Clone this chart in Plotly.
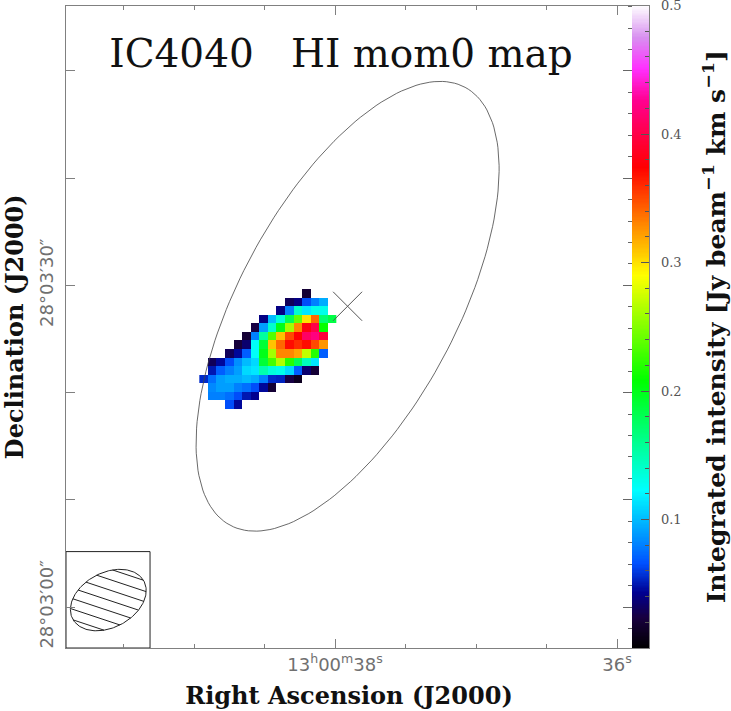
import numpy as np
import plotly.graph_objects as go

_ = None
# integrated intensity per pixel, top row first (Jy/beam km/s)
mom0 = [
    [_, _, _, _, _, _, _, _, _, _, _, _, .020, _, _, _],
    [_, _, _, _, _, _, _, _, _, _, .030, .040, .065, .080, .095, _],
    [_, _, _, _, _, _, _, _, _, .040, .080, .140, .115, .130, .130, _],
    [_, _, _, _, _, _, _, .040, .100, .135, .180, .240, .300, .340, .170, .185],
    [_, _, _, _, _, _, .025, .090, .140, .200, .260, .330, .380, .400, .210, _],
    [_, _, _, _, _, .020, .080, .155, .235, .310, .350, .375, .410, .420, .395, _],
    [_, _, _, _, .022, .035, .125, .190, .310, .340, .370, .360, .370, .350, .325, _],
    [_, _, _, .030, .045, .070, .125, .200, .260, .330, .330, .320, .270, .220, .070, _],
    [_, .030, .045, .065, .085, .100, .110, .190, .230, .265, .220, .180, .145, .115, _, _],
    [_, .050, .070, .080, .090, .110, .115, .150, .135, .130, .110, .070, .035, .020, _, _],
    [.055, .075, .090, .095, .095, .100, .095, .080, .055, .053, .025, .012, _, _, _, _],
    [_, .083, .090, .090, .080, .075, .065, .045, .020, _, _, _, _, _, _, _],
    [_, .080, .080, .075, .065, .050, .043, _, _, _, _, _, _, _, _, _],
    [_, _, _, .065, .045, _, _, _, _, _, _, _, _, _, _, _],
]
ra_first = 38.932     # seconds past 13h00m, first column
ra_step = -0.0609
dec_first = 29.26     # arcsec past 28d03m, first row
dec_step = -0.8

cbar_stops = [0, .024, .043, .066, .080, .123, .208, .290, .374, .426, .451, .475, .5]
cbar_colors = ["#000000", "#180040", "#000090", "#0050ff", "#0080ff", "#00ffff", "#00ff00",
               "#ffff00", "#ff0000", "#ff0090", "#ff30ff", "#d890f0", "#ffffff"]
cbar_ticks = [.1, .2, .3, .4, .5]

# optical ellipse of the galaxy and the synthesized beam
gal_ra, gal_dec, gal_a, gal_b, gal_angle = 37.911, 28.05, 23.17, 10.12, 61.8
beam_ra, beam_dec, beam_a, beam_b, beam_angle = 39.608, 0.65, 3.76, 2.56, 27.9
hatch_angle = -18.4
hatch_offsets = [-3, -2, -1, 0, 1, 2, 3]
hatch_step = 0.93

ra_ticks = [38, 36]
ra_labels = ["13<sup>h</sup>00<sup>m</sup>38<sup>s</sup>", "36<sup>s</sup>"]
dec_ticks = [0, 30]
dec_labels = ["28°03′00″", "28°03′30″"]
dec_other_ticks = [10, 20, 40, 50]

RA_RANGE = [39.908, 35.894]
DEC_RANGE = [-3.82, 56.1]
ARCSEC_PER_SEC = 13.14
W, H = 731, 711


def ellipse(ra0, dec0, a, b, angle):
    t = np.linspace(0, 2 * np.pi, 181)
    th = np.radians(angle)
    X = a * np.cos(t) * np.cos(th) - b * np.sin(t) * np.sin(th)
    Y = a * np.cos(t) * np.sin(th) + b * np.sin(t) * np.cos(th)
    return ra0 - X / ARCSEC_PER_SEC, dec0 + Y


def hatching():
    th, ph = np.radians(beam_angle), np.radians(hatch_angle)
    e1 = np.array([np.cos(th), np.sin(th)])
    e2 = np.array([-np.sin(th), np.cos(th)])
    d = np.array([np.cos(ph), np.sin(ph)])
    n = np.array([-np.sin(ph), np.cos(ph)])
    xs, ys = [], []
    for k in hatch_offsets:
        p = k * hatch_step * n
        A = (d @ e1 / beam_a) ** 2 + (d @ e2 / beam_b) ** 2
        B = 2 * ((p @ e1) * (d @ e1) / beam_a ** 2 + (p @ e2) * (d @ e2) / beam_b ** 2)
        C = (p @ e1 / beam_a) ** 2 + (p @ e2 / beam_b) ** 2 - 1
        root = np.sqrt(B ** 2 - 4 * A * C)
        for t in ((-B - root) / (2 * A), (-B + root) / (2 * A)):
            q = p + t * d
            xs.append(beam_ra - q[0] / ARCSEC_PER_SEC)
            ys.append(beam_dec + q[1])
        xs.append(None)
        ys.append(None)
    return xs, ys


colorscale = [[s / .5, c] for s, c in zip(cbar_stops, cbar_colors)]
levels = np.linspace(0, .5, 501)

fig = go.Figure()
fig.add_trace(go.Heatmap(z=mom0, x0=ra_first, dx=ra_step, y0=dec_first, dy=dec_step,
                         colorscale=colorscale, zmin=0, zmax=.5, showscale=False,
                         hoverongaps=False))
ex, ey = ellipse(gal_ra, gal_dec, gal_a, gal_b, gal_angle)
fig.add_trace(go.Scatter(x=ex, y=ey, mode="lines", line=dict(color="#444444", width=0.8), yaxis="y3"))
fig.add_trace(go.Scatter(x=[gal_ra], y=[gal_dec], mode="markers", yaxis="y3",
                         marker=dict(symbol="x-thin", size=29, line=dict(color="#555555", width=1))))
bx, by = ellipse(beam_ra, beam_dec, beam_a, beam_b, beam_angle)
fig.add_trace(go.Scatter(x=bx, y=by, mode="lines", line=dict(color="#222222", width=1), yaxis="y3"))
hx, hy = hatching()
fig.add_trace(go.Scatter(x=hx, y=hy, mode="lines", line=dict(color="#222222", width=1), yaxis="y3"))
# colour bar strip on its own axes
fig.add_trace(go.Heatmap(z=[[v] for v in levels], y=levels, x=[0], xaxis="x2", yaxis="y2",
                         colorscale=colorscale, zmin=0, zmax=.5, showscale=False))

tick_font = dict(family="DejaVu Sans", size=18, color="#707070")
title_font = dict(family="DejaVu Serif", size=24, color="#111111", weight="bold")
frame = "#808080"

fig.update_layout(
    width=W, height=H, margin=dict(l=0, r=0, t=0, b=0, autoexpand=False),
    paper_bgcolor="white", plot_bgcolor="white", showlegend=False,
    title=dict(text="IC4040\u00a0\u00a0\u00a0HI mom0 map", x=341 / W, xanchor="center",
               y=1 - 53 / H, yanchor="middle",
               font=dict(family="DejaVu Serif", size=39, color="#111111")),
    xaxis=dict(domain=[66 / W, 632 / W], range=RA_RANGE, tickmode="array", tickvals=ra_ticks,
               ticktext=ra_labels, ticks="inside", ticklen=9, tickcolor=frame,
               tickfont=tick_font, showline=True, linecolor=frame, mirror="ticks",
               showgrid=False, zeroline=False,
               minor=dict(ticks="inside", dtick=.5, tick0=0, ticklen=4.5, tickcolor=frame),
               title=dict(text="Right Ascension (J2000)", font=title_font, standoff=13)),
    yaxis=dict(domain=[1 - 648 / H, 1 - 5.5 / H], range=DEC_RANGE, tickmode="array",
               tickvals=dec_ticks, ticktext=dec_labels, tickangle=-90, ticks="inside",
               ticklen=9, tickcolor=frame, tickfont=tick_font, showline=True, linecolor=frame,
               ticklabelstandoff=5, showgrid=False, zeroline=False,
               minor=dict(ticks="inside", tickvals=dec_other_ticks, ticklen=9, tickcolor=frame),
               title=dict(text="Declination (J2000)", font=title_font, standoff=9)),
    yaxis3=dict(overlaying="y", anchor="x", side="right", range=DEC_RANGE, tickmode="array",
                tickvals=[0, 10, 20, 30, 40, 50], showticklabels=False, ticks="inside", ticklen=9,
                tickcolor="#666666", showline=True, linecolor="#444444",
                showgrid=False, zeroline=False,
                minor=dict(ticks="inside", dtick=2, tick0=0, ticklen=4.5, tickcolor="#666666")),
    xaxis2=dict(domain=[632 / W, 649.3 / W], range=[-.5, .5], showticklabels=False, ticks="",
                showgrid=False, zeroline=False, showline=True, linecolor=frame, mirror=True,
                anchor="y2"),
    yaxis2=dict(domain=[1 - 648 / H, 1 - 5.5 / H], range=[0, .5], anchor="x2", side="right",
                tickmode="array", tickvals=cbar_ticks, tickformat=".1f", ticks="inside", ticklen=8,
                tickcolor="#555555", ticklabelstandoff=8, ticklabeloverflow="allow",
                tickfont=dict(family="DejaVu Serif", size=13, color="#555555"),
                showline=True, linecolor=frame, showgrid=False, zeroline=False,
                minor=dict(ticks="inside", dtick=.02, tick0=0, ticklen=4, tickcolor="#555555"),
                title=dict(text="Integrated intensity [Jy beam<sup>−1</sup> km s<sup>−1</sup>]",
                           font=dict(family="DejaVu Serif", size=25, color="#111111", weight="bold"),
                           standoff=26)),
    shapes=[dict(type="rect", xref="x", yref="y", x0=RA_RANGE[0], x1=39.312,
                 y0=DEC_RANGE[0], y1=5.17, line=dict(color="#222222", width=1),
                 fillcolor="white", layer="below")],
)

fig.write_html("out.html", config=dict(displayModeBar=False),
               post_script="document.body.style.margin='0';")
